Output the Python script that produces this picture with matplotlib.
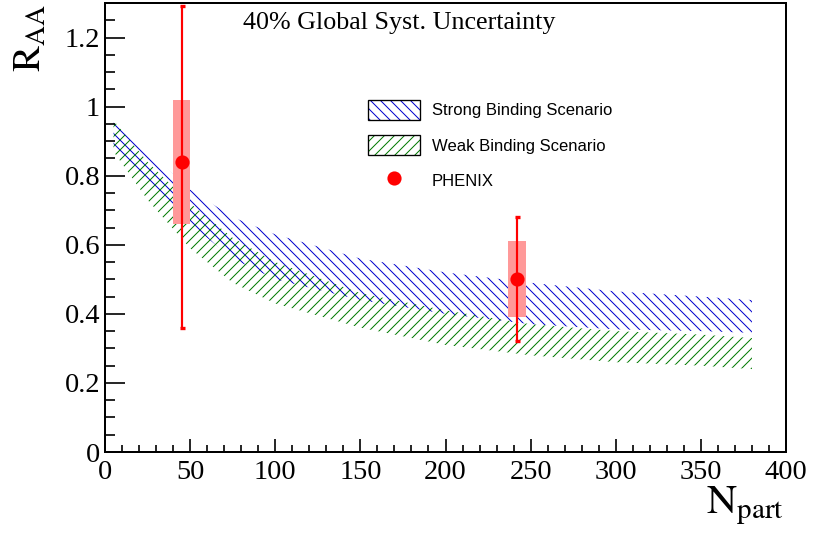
import numpy as np
import matplotlib
matplotlib.use('Agg')
from matplotlib import pyplot as plt
from matplotlib.patches import Patch, Rectangle
from matplotlib.lines import Line2D
from matplotlib.legend_handler import HandlerTuple
from matplotlib.ticker import MultipleLocator


# theory bands
npart_band = [5, 25, 50, 75, 100, 150, 200, 250, 300, 350, 380]
strong_hi = [0.97, 0.87, 0.76, 0.68, 0.63, 0.56, 0.52, 0.49, 0.465, 0.45, 0.44]
strong_lo = [0.89, 0.77, 0.66, 0.56, 0.50, 0.44, 0.40, 0.37, 0.355, 0.35, 0.345]
weak_hi = [0.96, 0.84, 0.72, 0.62, 0.55, 0.46, 0.41, 0.37, 0.35, 0.34, 0.33]
weak_lo = [0.87, 0.73, 0.59, 0.49, 0.43, 0.36, 0.31, 0.28, 0.26, 0.25, 0.24]

# PHENIX points
phenix_npart = [45, 242]
phenix_raa = [0.84, 0.50]
phenix_stat_lo = [0.48, 0.18]
phenix_stat_hi = [0.45, 0.18]
phenix_syst_lo = [0.66, 0.39]
phenix_syst_hi = [1.02, 0.61]
syst_halfwidth = 5

BLUE = '#0000cc'
GREEN = '#007a00'
HATCH_STRONG = chr(92) * 4   # backslash hatch
HATCH_WEAK = '////'

plt.rcParams['mathtext.fontset'] = 'stix'
plt.rcParams['hatch.linewidth'] = 0.6

DPI = 120
fig = plt.figure(figsize=(813 / DPI, 536 / DPI), dpi=DPI)
ax = fig.add_axes([105 / 813, 84 / 536, 681 / 813, 449 / 536])

ax.fill_between(npart_band, strong_lo, strong_hi, facecolor='none',
                edgecolor=BLUE, hatch=HATCH_STRONG, linewidth=0)
ax.fill_between(npart_band, weak_lo, weak_hi, facecolor='none',
                edgecolor=GREEN, hatch=HATCH_WEAK, linewidth=0)

for x, lo, hi in zip(phenix_npart, phenix_syst_lo, phenix_syst_hi):
    ax.add_patch(Rectangle((x - syst_halfwidth, lo), 2 * syst_halfwidth, hi - lo,
                           facecolor='#ff9999', edgecolor='none', zorder=3))

ax.errorbar(phenix_npart, phenix_raa, yerr=[phenix_stat_lo, phenix_stat_hi],
            fmt='o', color='red', markersize=7.5, elinewidth=1.3, capsize=1.5,
            capthick=2, zorder=4)

ax.set_xlim(0, 400)
ax.set_ylim(0, 1.3)
ax.xaxis.set_major_locator(MultipleLocator(50))
ax.xaxis.set_minor_locator(MultipleLocator(10))
ax.yaxis.set_major_locator(MultipleLocator(0.2))
ax.yaxis.set_minor_locator(MultipleLocator(0.05))
ax.yaxis.set_major_formatter(plt.FuncFormatter(lambda v, p: ('%g' % round(v, 2))))
ax.tick_params(axis='both', which='both', direction='in', width=1.0, colors='black')
ax.tick_params(axis='y', which='major', length=12, pad=3)
ax.tick_params(axis='y', which='minor', length=6)
ax.tick_params(axis='x', which='major', length=8, pad=5)
ax.tick_params(axis='x', which='minor', length=4.2)
for lab in ax.get_xticklabels() + ax.get_yticklabels():
    lab.set_fontfamily('Liberation Serif')
    lab.set_fontsize(17)
for s in ax.spines.values():
    s.set_linewidth(1.2)

fig.text(243 / 813, 1 - 29 / 536, '40% Global Syst. Uncertainty',
         family='Liberation Serif', fontsize=15.6, ha='left', va='baseline')
fig.text(11 / 813, 1 - 4 / 536, r'$\mathrm{R}_{\mathrm{AA}}$', fontsize=23.5,
         rotation=90, ha='left', va='top')
fig.text(784 / 813, 1 - 513 / 536, r'$\mathrm{N}_{\mathrm{part}}$', fontsize=25,
         ha='right', va='baseline')

h_strong = (Patch(facecolor='none', edgecolor=BLUE, hatch=HATCH_STRONG, linewidth=0),
            Patch(facecolor='none', edgecolor='black', linewidth=0.8))
h_weak = (Patch(facecolor='none', edgecolor=GREEN, hatch=HATCH_WEAK, linewidth=0),
          Patch(facecolor='none', edgecolor='black', linewidth=0.8))
h_phenix = Line2D([], [], marker='o', color='red', linestyle='none', markersize=7.5)
ax.legend([h_strong, h_weak, h_phenix],
          ['Strong Binding Scenario', 'Weak Binding Scenario', 'PHENIX'],
          handler_map={tuple: HandlerTuple(ndivide=1, pad=0)},
          loc='upper left', bbox_to_anchor=((368 - 105) / 681, (452 - 99.5) / 449),
          frameon=False, borderpad=0, borderaxespad=0,
          prop={'family': 'Liberation Sans', 'size': 10},
          handlelength=3.1, handleheight=1.5, labelspacing=0.9, handletextpad=0.72)

fig.savefig('out.png', dpi=DPI)
